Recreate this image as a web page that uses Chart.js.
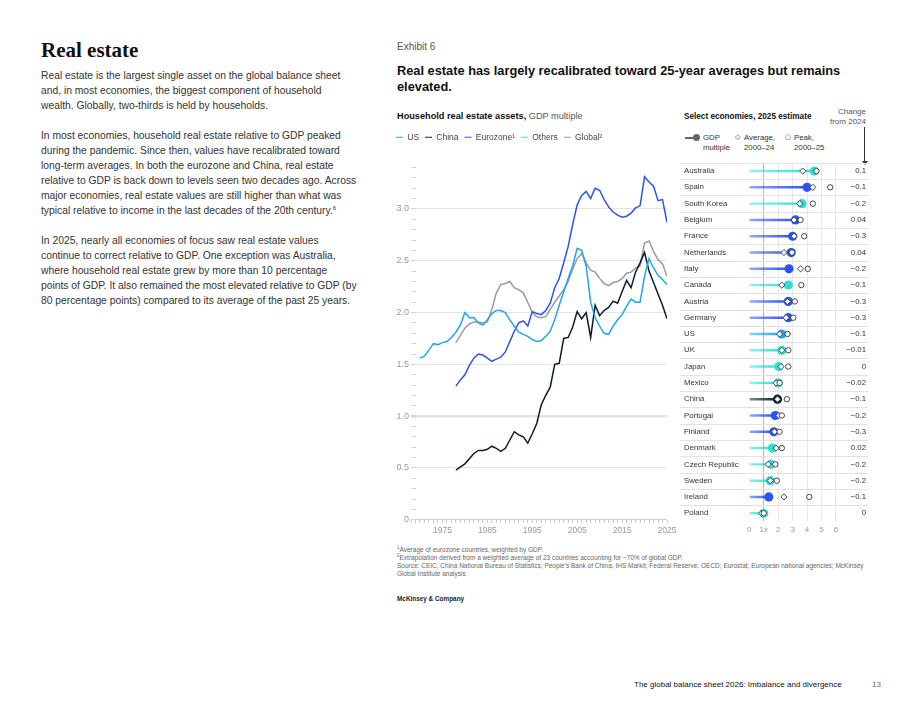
<!DOCTYPE html>
<html>
<head>
<meta charset="utf-8">
<script src="https://cdn.jsdelivr.net/npm/chart.js@4.4.1/dist/chart.umd.min.js"></script>
<style>
  html, body { margin: 0; padding: 0; background: #fff; }
  body { width: 920px; height: 711px; position: relative; overflow: hidden; font-family: 'Liberation Sans', Arial, sans-serif; color: #222; }
  sup { line-height: 0; vertical-align: super; }
  .abs { position: absolute; white-space: nowrap; }
  #heading { left: 41px; top: 37px; font: bold 21px/26px 'Liberation Serif', 'DejaVu Serif', serif; color: #111; }
  #body { left: 41px; top: 67.5px; font-size: 10.3px; line-height: 15px; color: #333; }
  #exhibit { left: 397px; top: 41px; font-size: 10px; line-height: 12px; color: #555; }
  #title { left: 397px; top: 63px; font-size: 12.8px; line-height: 16px; font-weight: bold; color: #111; }
  #subLeft { left: 397px; top: 111px; font-size: 9.2px; line-height: 10px; color: #111; }
  #subLeft span { color: #555; font-weight: normal; }
  #subRight { left: 684px; top: 112px; font-size: 8.2px; line-height: 10px; font-weight: bold; color: #111; }
  #change { right: 54px; top: 107px; font-size: 8px; line-height: 9.5px; color: #555; text-align: right; }
  #arrow { left: 864px; top: 127px; width: 0; height: 35px; border-left: 1px solid #333; }
  #arrowHead { left: 861.5px; top: 161px; width: 0; height: 0; border-left: 3px solid transparent; border-right: 3px solid transparent; border-top: 4px solid #333; }
  .leg { font-size: 7.8px; line-height: 9.6px; color: #333; }
  .sym { font: 7px/9.6px 'DejaVu Sans', sans-serif; color: #333; }
  #notes { left: 397px; top: 546px; font-size: 6.5px; line-height: 8px; color: #666; }
  #brand { left: 397px; top: 595px; font-size: 6.4px; line-height: 8px; font-weight: bold; color: #222; }
  #footer { left: 634px; top: 681px; font-size: 8px; line-height: 8px; color: #111; }
  #page { left: 872px; top: 681px; font-size: 8px; line-height: 8px; color: #666; }
  canvas { position: absolute; }
</style>
</head>
<body>
<div id="heading" class="abs">Real estate</div>
<div id="body" class="abs">
Real estate is the largest single asset on the global balance sheet<br>
and, in most economies, the biggest component of household<br>
wealth. Globally, two-thirds is held by households.<br>
<br>
In most economies, household real estate relative to GDP peaked<br>
during the pandemic. Since then, values have recalibrated toward<br>
long-term averages. In both the eurozone and China, real estate<br>
relative to GDP is back down to levels seen two decades ago. Across<br>
major economies, real estate values are still higher than what was<br>
typical relative to income in the last decades of the 20th century.<sup style="font-size:6px">6</sup><br>
<br>
In 2025, nearly all economies of focus saw real estate values<br>
continue to correct relative to GDP. One exception was Australia,<br>
where household real estate grew by more than 10 percentage<br>
points of GDP. It also remained the most elevated relative to GDP (by<br>
80 percentage points) compared to its average of the past 25 years.
</div>

<div id="exhibit" class="abs">Exhibit 6</div>
<div id="title" class="abs">Real estate has largely recalibrated toward 25-year averages but remains<br>elevated.</div>
<div id="subLeft" class="abs"><b>Household real estate assets,</b> <span>GDP multiple</span></div>
<div id="subRight" class="abs">Select economies, 2025 estimate</div>
<div id="change" class="abs">Change<br>from 2024</div>
<div id="arrow" class="abs"></div>
<div id="arrowHead" class="abs"></div>

<!-- legend of the dot panel -->
<div class="abs" style="left:685px;top:137px;width:9px;height:1.5px;background:#666;"></div>
<div class="abs" style="left:693px;top:134px;width:7px;height:7px;border-radius:50%;background:#666;"></div>
<div class="abs leg" style="left:703px;top:133px;">GDP<br>multiple</div>
<div class="abs sym" style="left:735px;top:133px;">&#9671;</div>
<div class="abs leg" style="left:744px;top:133px;">Average,<br>2000&ndash;24</div>
<div class="abs sym" style="left:785px;top:133px;">&#9675;</div>
<div class="abs leg" style="left:794px;top:133px;">Peak,<br>2000&ndash;25</div>

<canvas id="lineChart" width="290" height="412" style="left:390px;top:127px;"></canvas>
<canvas id="dotChart" width="190" height="381" style="left:680px;top:158px;"></canvas>

<div id="notes" class="abs">
<sup style="font-size:4.5px">1</sup>Average of eurozone countries, weighted by GDP.<br>
<sup style="font-size:4.5px">2</sup>Extrapolation derived from a weighted average of 23 countries accounting for ~70% of global GDP.<br>
Source: CEIC; China National Bureau of Statistics; People's Bank of China; IHS Markit; Federal Reserve; OECD; Eurostat; European national agencies; McKinsey<br>
Global Institute analysis
</div>
<div id="brand" class="abs">McKinsey &amp; Company</div>
<div id="footer" class="abs">The global balance sheet 2026: Imbalance and divergence</div>
<div id="page" class="abs">13</div>

<script>
// household real estate assets, GDP multiple
const years = [1970, 1971, 1972, 1973, 1974, 1975, 1976, 1977, 1978, 1979,
  1980, 1981, 1982, 1983, 1984, 1985, 1986, 1987, 1988, 1989,
  1990, 1991, 1992, 1993, 1994, 1995, 1996, 1997, 1998, 1999,
  2000, 2001, 2002, 2003, 2004, 2005, 2006, 2007, 2008, 2009,
  2010, 2011, 2012, 2013, 2014, 2015, 2016, 2017, 2018, 2019,
  2020, 2021, 2022, 2023, 2024, 2025];

const usValues = [1.56, 1.58, 1.64, 1.70, 1.69, 1.71, 1.72, 1.76, 1.81, 1.88,
  2.00, 1.95, 1.95, 1.90, 1.88, 1.93, 1.99, 2.02, 2.02, 2.00,
  1.93, 1.87, 1.81, 1.79, 1.77, 1.74, 1.72, 1.73, 1.77, 1.82,
  1.93, 2.07, 2.20, 2.33, 2.45, 2.62, 2.60, 2.45, 2.10, 1.95,
  1.87, 1.80, 1.79, 1.87, 1.93, 1.98, 2.06, 2.13, 2.10, 2.10,
  2.35, 2.52, 2.43, 2.36, 2.32, 2.27];

const chinaValues = [null, null, null, null, null, null, null, null, 0.48, 0.51,
  0.54, 0.59, 0.64, 0.67, 0.67, 0.68, 0.71, 0.69, 0.66, 0.69,
  0.77, 0.85, 0.82, 0.80, 0.74, 0.83, 0.93, 1.11, 1.20, 1.28,
  1.50, 1.51, 1.75, 1.76, 1.86, 2.01, 1.94, 2.00, 1.76, 2.07,
  1.97, 2.02, 2.05, 2.11, 2.09, 2.20, 2.31, 2.24, 2.39, 2.48,
  2.58, 2.40, 2.29, 2.18, 2.07, 1.94];

const eurozoneValues = [null, null, null, null, null, null, null, null, 1.29, 1.35,
  1.40, 1.49, 1.56, 1.60, 1.59, 1.56, 1.53, 1.55, 1.57, 1.62,
  1.72, 1.82, 1.90, 1.92, 1.87, 2.01, 1.99, 1.98, 2.02, 2.09,
  2.24, 2.33, 2.48, 2.64, 2.85, 3.04, 3.13, 3.17, 3.10, 3.20,
  3.18, 3.09, 3.02, 2.97, 2.94, 2.92, 2.93, 2.96, 3.01, 3.03,
  3.31, 3.26, 3.22, 3.08, 3.09, 2.87];

const globalValues = [null, null, null, null, null, null, null, null, 1.71, 1.78,
  1.85, 1.89, 1.91, 1.91, 1.90, 1.91, 2.03, 2.19, 2.27, 2.28,
  2.30, 2.24, 2.22, 2.19, 2.10, 2.00, 1.96, 1.95, 1.96, 2.03,
  2.10, 2.16, 2.22, 2.30, 2.42, 2.52, 2.57, 2.48, 2.41, 2.39,
  2.33, 2.28, 2.26, 2.29, 2.30, 2.33, 2.38, 2.39, 2.43, 2.45,
  2.67, 2.69, 2.59, 2.51, 2.47, 2.35];

// select economies, 2025 estimate
const countries = ['Australia', 'Spain', 'South Korea', 'Belgium', 'France', 'Netherlands',
  'Italy', 'Canada', 'Austria', 'Germany', 'US', 'UK', 'Japan', 'Mexico', 'China',
  'Portugal', 'Finland', 'Denmark', 'Czech Republic', 'Sweden', 'Ireland', 'Poland'];
const gdp2025 = [4.5, 4.0, 3.65, 3.2, 3.0, 2.9, 2.75, 2.7, 2.7, 2.7, 2.25, 2.25,
  2.05, 2.0, 1.95, 1.8, 1.7, 1.6, 1.5, 1.45, 1.35, 1.0];
const avg2000to24 = [3.7, 4.4, 3.5, 3.1, 3.1, 2.4, 3.55, 2.25, 2.65, 2.55, 2.1, 2.25,
  2.2, 1.85, 1.95, 2.05, 1.75, 1.85, 1.3, 1.45, 2.4, 0.85];
const peak2000to25 = [4.65, 5.6, 4.4, 3.55, 3.8, 2.95, 4.05, 3.6, 3.15, 3.05, 2.65, 2.7,
  2.7, 2.1, 2.6, 2.25, 2.1, 2.25, 1.8, 1.9, 4.15, 1.0];
const change2024 = ['0.1', '\u22120.1', '\u22120.2', '0.04', '\u22120.3', '0.04', '\u22120.2',
  '\u22120.1', '\u22120.3', '\u22120.3', '\u22120.1', '\u22120.01', '0', '\u22120.02', '\u22120.1',
  '\u22120.2', '\u22120.3', '0.02', '\u22120.2', '\u22120.2', '\u22120.1', '0'];
const groups = ['other', 'euro', 'other', 'euro', 'euro', 'euro', 'euro', 'other', 'euro', 'euro',
  'us', 'other', 'other', 'other', 'china', 'euro', 'euro', 'other', 'other', 'other', 'euro', 'other'];

const colors = { us: '#1ea6ee', china: '#0b1c30', euro: '#2d53f3', other: '#2ee0d3', global: '#9b9b9b' };

Chart.defaults.font.family = "'Liberation Sans', Arial, sans-serif";

// push the plot away from the legend
const legendGap = {
  id: 'legendGap',
  beforeInit(chart) {
    const fit = chart.legend.fit;
    chart.legend.fit = function () {
      fit.call(this);
      this.height += 16;
    };
  }
};

new Chart(document.getElementById('lineChart'), {
  type: 'line',
  data: {
    labels: years,
    datasets: [
      { label: 'US', data: usValues, borderColor: colors.us, backgroundColor: colors.us },
      { label: 'China', data: chinaValues, borderColor: colors.china, backgroundColor: colors.china },
      { label: 'Eurozone\u00b9', data: eurozoneValues, borderColor: colors.euro, backgroundColor: colors.euro },
      { label: 'Others', data: [], borderColor: colors.other, backgroundColor: colors.other },
      { label: 'Global\u00b2', data: globalValues, borderColor: colors.global, backgroundColor: colors.global }
    ]
  },
  options: {
    responsive: false,
    animation: false,
    layout: { padding: { right: 13 } },
    elements: {
      line: { borderWidth: 1.5, tension: 0 },
      point: { radius: 0, hoverRadius: 0 }
    },
    plugins: {
      tooltip: { enabled: false },
      legend: {
        position: 'top',
        align: 'start',
        labels: {
          usePointStyle: true,
          pointStyle: 'line',
          pointStyleWidth: 7,
          boxHeight: 6,
          padding: 6,
          color: '#444',
          font: { size: 8.5 }
        }
      }
    },
    scales: {
      x: {
        type: 'linear',
        min: 1968,
        max: 2025,
        ticks: {
          stepSize: 1,
          autoSkip: false,
          maxRotation: 0,
          padding: 3,
          color: '#999',
          font: { size: 8.5 },
          callback: v => ((v - 1975) % 10 === 0 ? String(v) : '')
        },
        grid: { drawOnChartArea: false, tickLength: 3, tickColor: '#c8c8c8' },
        border: { display: false }
      },
      y: {
        min: 0,
        max: 3.4,
        ticks: {
          stepSize: 0.1,
          maxTicksLimit: 100,
          autoSkip: false,
          padding: 7,
          color: '#999',
          font: { size: 9 },
          callback: function (value) {
            const t = Math.round(value * 10);
            if (t % 5 !== 0) return '';
            return t === 0 ? '0' : (t / 10).toFixed(1);
          }
        },
        grid: {
          tickLength: -5,
          tickColor: '#d6d6d6',
          color: function (c) {
            const t = Math.round(c.tick.value * 10);
            if (t === 0) return '#cfcfcf';
            return t % 5 === 0 ? '#e4e4e4' : 'rgba(0,0,0,0)';
          },
          lineWidth: c => (Math.round(c.tick.value * 10) === 10 ? 2.5 : 1)
        },
        border: { display: false },
        afterFit(scale) { scale.width = 21; }
      }
    }
  },
  plugins: [legendGap]
});

// thin separators between the country rows, across the whole panel
const rowLines = {
  id: 'rowLines',
  beforeDatasetsDraw(chart) {
    const { ctx, scales: { y } } = chart;
    const half = (y.getPixelForValue(1) - y.getPixelForValue(0)) / 2;
    ctx.save();
    ctx.strokeStyle = '#e2e2e2';
    ctx.lineWidth = 1;
    countries.forEach((c, i) => {
      const py = Math.round(y.getPixelForValue(i) - half) + 0.5;
      ctx.beginPath();
      ctx.moveTo(0, py);
      ctx.lineTo(chart.width - 2, py);
      ctx.stroke();
    });
    ctx.restore();
  }
};

function stemColor(ctx) {
  const col = colors[groups[ctx.dataIndex]];
  const chart = ctx.chart;
  if (!chart.chartArea) return col;
  const xs = chart.scales.x;
  const g = chart.ctx.createLinearGradient(xs.getPixelForValue(0), 0, xs.getPixelForValue(gdp2025[ctx.dataIndex]), 0);
  g.addColorStop(0, col + '80');
  g.addColorStop(1, col);
  return g;
}

new Chart(document.getElementById('dotChart'), {
  type: 'bar',
  data: {
    labels: countries,
    datasets: [
      {
        type: 'line', label: 'Peak, 2000\u201325', data: peak2000to25, indexAxis: 'y', showLine: false,
        pointStyle: 'circle', pointRadius: 2.7, pointBackgroundColor: '#fff',
        pointBorderColor: '#333', pointBorderWidth: 0.9, order: 1
      },
      {
        type: 'line', label: 'Average, 2000\u201324', data: avg2000to24, indexAxis: 'y', showLine: false,
        pointStyle: 'rectRot', pointRadius: 3.1, pointBackgroundColor: '#fff',
        pointBorderColor: '#333', pointBorderWidth: 0.9, order: 2
      },
      {
        type: 'line', label: 'GDP multiple', data: gdp2025, indexAxis: 'y', showLine: false,
        pointStyle: 'circle', pointRadius: 4.6, pointBorderWidth: 0,
        pointBackgroundColor: groups.map(g => colors[g]), order: 3
      },
      {
        type: 'bar', label: 'stem', data: gdp2025.map(v => [0, v]), indexAxis: 'y',
        backgroundColor: stemColor, barThickness: 1.8, borderWidth: 0, order: 4
      }
    ]
  },
  options: {
    indexAxis: 'y',
    responsive: false,
    animation: false,
    layout: { padding: { left: 4, right: 4, top: 0, bottom: 0 } },
    plugins: { legend: { display: false }, tooltip: { enabled: false } },
    scales: {
      x: {
        type: 'linear',
        position: 'bottom',
        min: 0,
        max: 6.3,
        ticks: {
          stepSize: 1,
          includeBounds: false,
          padding: 4,
          color: '#999',
          font: { size: 8 },
          callback: v => (v === 1 ? '1x' : String(v))
        },
        grid: {
          drawTicks: false,
          color: function (c) {
            if (c.tick.value === 1) return '#b8b8b8';
            if (c.tick.value === 0) return 'rgba(0,0,0,0)';
            return '#e8e8e8';
          }
        },
        border: { display: false }
      },
      y: {
        type: 'category',
        position: 'left',
        offset: true,
        grid: { display: false },
        border: { display: false },
        ticks: { crossAlign: 'far', autoSkip: false, padding: 0, color: '#333', font: { size: 7.8 } },
        afterFit(scale) { scale.width = 65.3; }
      },
      y2: {
        type: 'category',
        position: 'right',
        labels: change2024,
        offset: true,
        grid: { display: false },
        border: { display: false },
        ticks: { crossAlign: 'far', autoSkip: false, padding: 0, color: '#333', font: { size: 7.8 } },
        afterFit(scale) { scale.width = 25.7; }
      }
    }
  },
  plugins: [rowLines]
});
</script>
</body>
</html>
